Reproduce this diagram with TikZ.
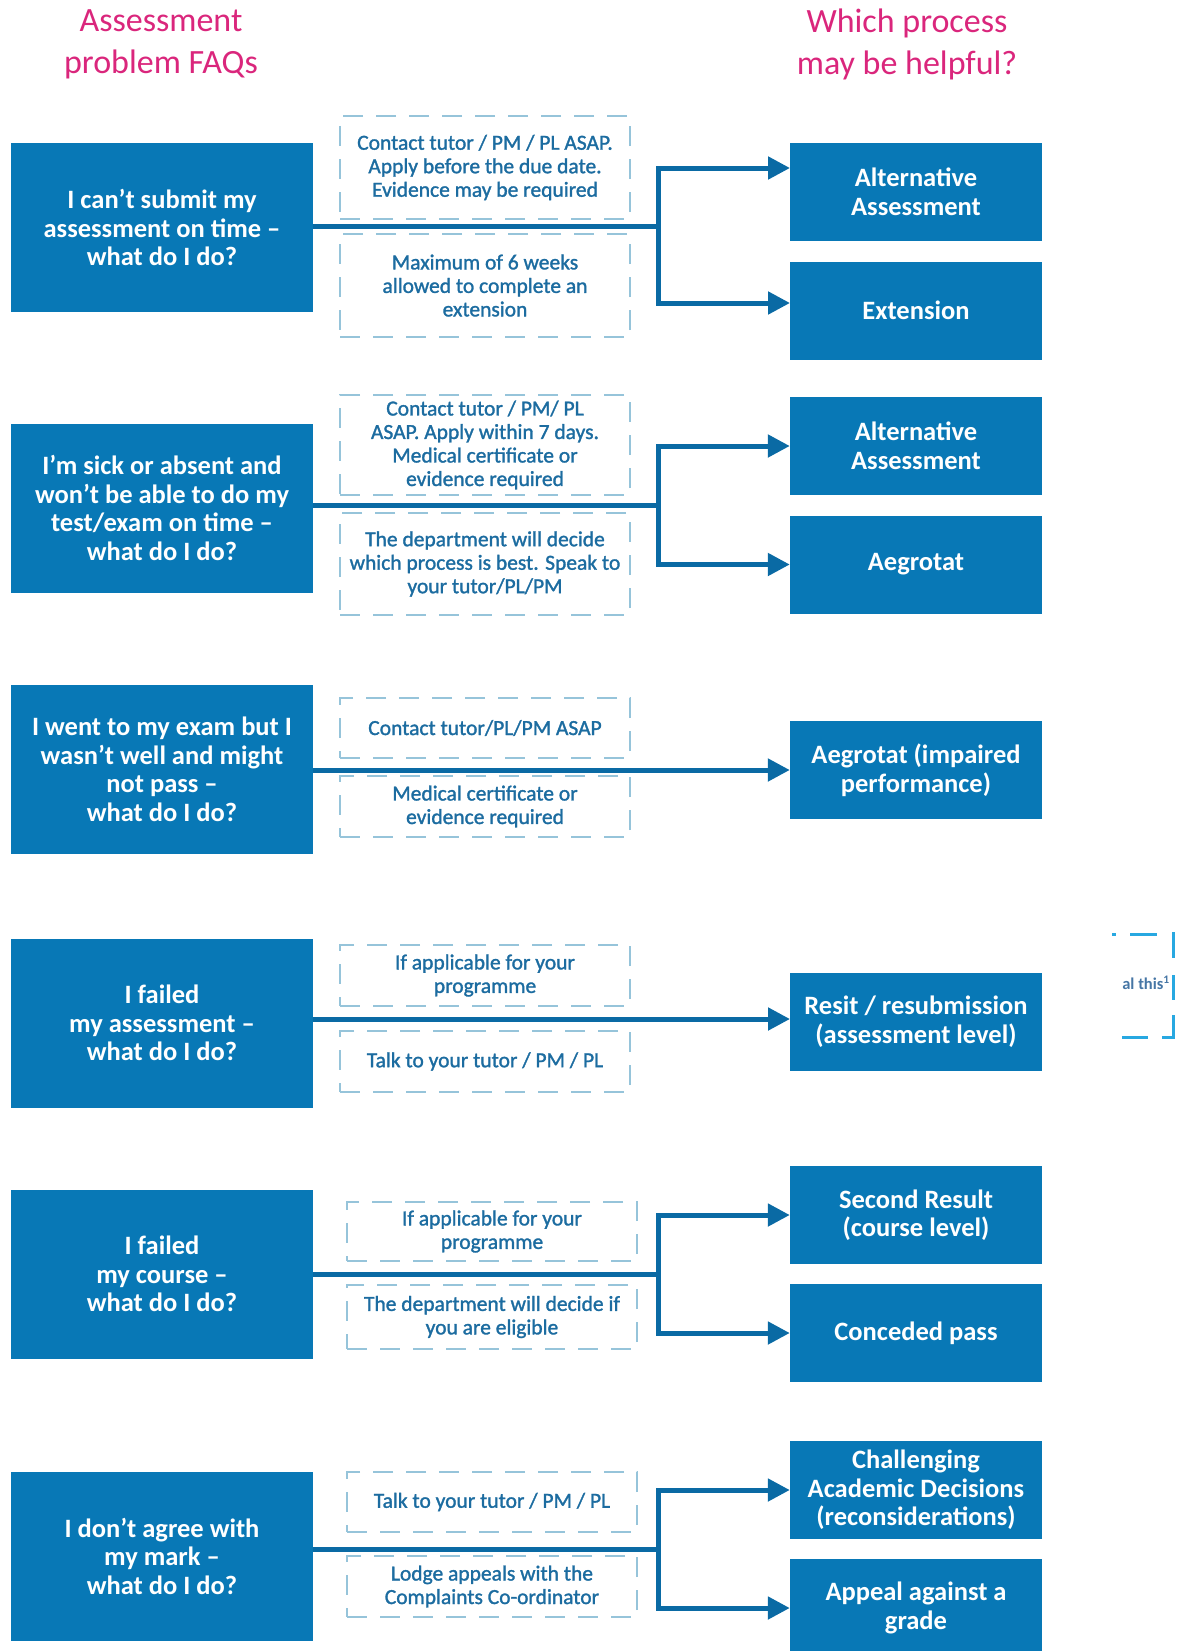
\documentclass[tikz,border=0pt]{standalone}
\usepackage{fontspec}
\setmainfont{Carlito}
\newfontfamily\medfont{Carlito}[FakeBold=1.4]
\usetikzlibrary{arrows.meta}
\definecolor{boxblue}{RGB}{8,120,182}
\definecolor{lineblue}{RGB}{10,106,164}
\definecolor{dashblue}{RGB}{150,196,218}
\definecolor{notetext}{RGB}{28,108,160}
\definecolor{headpink}{RGB}{218,38,124}
\definecolor{fragblue}{RGB}{40,168,225}
\definecolor{fragtext}{RGB}{70,118,165}
\begin{document}
\begin{tikzpicture}[x=1pt,y=-1pt,
  q/.style={fill=boxblue, text=white, font=\bfseries\fontsize{26.5}{28.5}\selectfont, align=center,
            minimum width=302pt, minimum height=169pt, inner sep=0pt},
  p/.style={fill=boxblue, text=white, font=\bfseries\fontsize{26.5}{28.5}\selectfont, align=center,
            minimum width=252pt, minimum height=98pt, inner sep=0pt},
  note/.style={draw=dashblue, line width=2.5pt, dash pattern=on 20pt off 13pt, text=notetext,
            font=\medfont\fontsize{21.5}{23.5}\selectfont, align=center, minimum width=290pt, inner sep=0pt},
  head/.style={text=headpink, font=\fontsize{34}{42}\selectfont, align=center},
  conn/.style={draw=lineblue, line width=5pt},
  arr/.style={conn, -{Triangle[length=22pt,width=22pt]}},
  frag/.style={draw=fragblue, line width=3pt}]
\useasboundingbox (0,0) rectangle (1176,1651);

% headers
\node[head] (h1) at (161,44) {Assessment\\problem FAQs};
\node[head] (h2) at (907,44) {Which process\\may be helpful?};

% ---------- Row 1
\node[q] (l1) at (162,227.5) {I can’t submit my\\assessment on time –\\what do I do?};
\node[note, minimum height=103pt] (n1a) at (485,167.5) {Contact tutor / PM / PL ASAP.\\Apply before the due date.\\Evidence may be required};
\node[note, minimum height=103pt] (n1b) at (485,285.5) {Maximum of 6 weeks\\allowed to complete an\\extension};
\node[p] (r1a) at (916,192) {Alternative\\Assessment};
\node[p] (r1b) at (916,310.5) {Extension};
\coordinate (j1) at (658,226);
\coordinate (t1a) at (790,168);
\coordinate (t1b) at (790,303);
\draw[conn] (l1.east |- j1) -- (j1);
\draw[arr] (j1) |- (t1a);
\draw[arr] (j1) |- (t1b);

% ---------- Row 2
\node[q] (l2) at (162,508) {I’m sick or absent and\\won’t be able to do my\\test/exam on time –\\what do I do?};
\node[note, minimum height=100pt] (n2a) at (485,445) {Contact tutor / PM/ PL\\ASAP. Apply within 7 days.\\Medical certificate or\\evidence required};
\node[note, minimum height=102pt] (n2b) at (485,564) {The department will decide\\which process is best. Speak to\\your tutor/PL/PM};
\node[p] (r2a) at (916,446) {Alternative\\Assessment};
\node[p] (r2b) at (916,564.5) {Aegrotat};
\coordinate (j2) at (658,505);
\draw[conn] (l2.east |- j2) -- (j2);
\draw[arr] (j2) |- (r2a.west);
\draw[arr] (j2) |- (r2b.west);

% ---------- Row 3
\node[q] (l3) at (162,769.5) {I went to my exam but I\\wasn’t well and might\\not pass –\\what do I do?};
\node[note, minimum height=60pt] (n3a) at (485,728) {Contact tutor/PL/PM ASAP};
\node[note, minimum height=61pt] (n3b) at (485,806.5) {Medical certificate or\\evidence required};
\node[p] (r3) at (916,770) {Aegrotat (impaired\\performance)};
\draw[arr] (l3.east |- r3.west) -- (r3.west);

% ---------- Row 4
\node[q] (l4) at (162,1023) {I failed\\my assessment –\\what do I do?};
\node[note, minimum height=61pt] (n4a) at (485,975.5) {If applicable for your\\programme};
\node[note, minimum height=61pt] (n4b) at (485,1061.5) {Talk to your tutor / PM / PL};
\node[p] (r4) at (916,1021.5) {Resit / resubmission\\(assessment level)};
\coordinate (t4) at (790,1019);
\draw[arr] (l4.east |- t4) -- (t4);

% ---------- Row 5
\node[q] (l5) at (162,1274) {I failed\\my course –\\what do I do?};
\node[note, minimum height=59pt] (n5a) at (492,1231.5) {If applicable for your\\programme};
\node[note, minimum height=64pt] (n5b) at (492,1317) {The department will decide if\\you are eligible};
\node[p] (r5a) at (916,1215) {Second Result\\(course level)};
\node[p] (r5b) at (916,1333) {Conceded pass};
\coordinate (j5) at (658,1274);
\draw[conn] (l5.east |- j5) -- (j5);
\draw[arr] (j5) |- (r5a.west);
\draw[arr] (j5) |- (r5b.west);

% ---------- Row 6
\node[q] (l6) at (162,1556) {I don’t agree with\\my mark –\\what do I do?};
\node[note, minimum height=60pt] (n6a) at (492,1502) {Talk to your tutor / PM / PL};
\node[note, minimum height=61pt] (n6b) at (492,1586.5) {Lodge appeals with the\\Complaints Co-ordinator};
\node[p] (r6a) at (916,1490) {Challenging\\Academic Decisions\\(reconsiderations)};
\node[p] (r6b) at (916,1608) {Appeal against a\\grade};
\coordinate (j6) at (658,1549);
\draw[conn] (l6.east |- j6) -- (j6);
\draw[arr] (j6) |- (r6a.west);
\draw[arr] (j6) |- (r6b.west);

% ---------- stray fragment at the right edge
\node[anchor=east, text=fragtext, font=\bfseries\fontsize{16.5}{18}\selectfont, inner sep=0pt] (fr) at (1170,983) {al this\textsuperscript{1}};
\draw[frag] (1112,934) -- (1116,934);
\draw[frag] (1130,934) -- (1157,934);
\draw[frag] (1173,932) -- (1173,958);
\draw[frag] (1173,975) -- (1173,1000);
\draw[frag] (1173,1015) -- (1173,1037) -- (1162,1037);
\draw[frag] (1122,1037) -- (1148,1037);
\end{tikzpicture}
\end{document}
